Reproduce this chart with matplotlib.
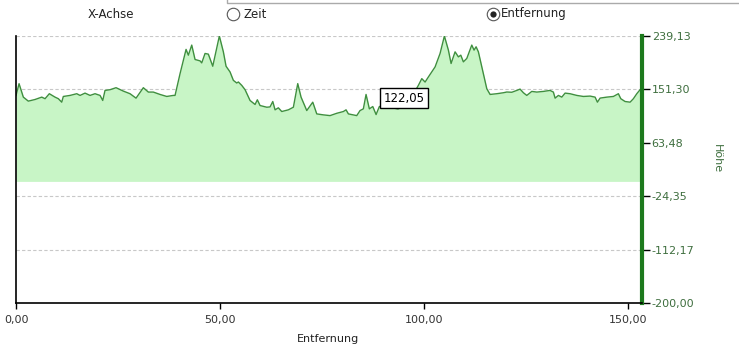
import matplotlib.pyplot as plt
from matplotlib.lines import Line2D

# Entfernung (km) und Höhe (m)
entfernung = [0.0, 0.74, 1.79, 3.01, 4.66, 6.30, 7.11, 8.16, 9.56, 10.37, 11.2, 11.59,
              13.24, 14.88, 15.69, 16.91, 18.14, 19.36, 20.59, 21.25, 21.81, 23.04,
              24.51, 26.3, 27.94, 29.41, 31.2, 32.43, 33.65, 35.29, 36.94, 38.55,
              38.97, 40.2, 41.67, 42.23, 43.06, 43.87, 45.1, 45.51, 46.32, 47.13,
              48.21, 49.83, 50.81, 51.47, 52.45, 53.26, 54.09, 54.49, 55.32, 56.13,
              57.35, 58.58, 59.14, 59.8, 61.45, 62.25, 62.92, 63.48, 64.29, 65.12,
              66.74, 67.97, 69.04, 69.85, 71.25, 72.72, 73.7, 75.32, 76.96, 78.6,
              80.22, 80.88, 81.45, 83.5, 84.31, 85.12, 85.78, 86.59, 87.43, 88.24,
              89.04, 90.4, 91.7, 93.6, 95.3, 96.6, 97.5, 98.6, 99.44, 100.25, 101.05,
              102.7, 103.92, 104.98, 105.96, 106.62, 107.6, 108.41, 109.0, 109.63,
              110.47, 111.69, 112.25, 112.75, 113.31, 115.37, 116.18, 117.82, 119.44,
              120.27, 121.5, 122.72, 123.53, 124.34, 125.17, 126.4, 127.62, 129.24,
              130.88, 131.69, 132.11, 132.92, 133.75, 134.56, 135.78, 137.43, 139.04,
              140.69, 141.91, 142.48, 143.14, 144.78, 146.4, 147.62, 148.21, 149.26,
              150.49, 151.3, 152.13, 152.94, 153.36]
hoehe = [141.4, 160.7, 138.6, 132.0, 134.7, 138.6, 136.0, 144.2, 138.6, 136.0, 130.3, 139.7,
         141.4, 144.2, 141.4, 145.2, 141.4, 144.2, 141.4, 133.1, 149.6, 150.8,
         154.1, 148.5, 144.2, 136.9, 154.1, 146.9, 146.9, 143.0, 139.7, 141.4,
         141.4, 177.3, 217.1, 207.6, 224.2, 200.5, 198.2, 194.9, 210.4, 209.3,
         189.4, 239.1, 213.1, 189.4, 180.0, 166.2, 161.8, 163.5, 157.9, 150.8,
         133.1, 126.5, 134.2, 124.8, 122.0, 122.5, 131.4, 117.7, 121.0, 114.9,
         117.7, 122.0, 160.8, 138.6, 116.5, 130.3, 111.0, 109.4, 108.2, 112.0,
         114.9, 117.7, 111.0, 108.2, 116.5, 119.3, 143.0, 119.3, 123.1, 109.9,
         123.1, 125.0, 122.0, 119.0, 124.0, 132.0, 145.0, 157.9, 169.0, 163.4, 171.7,
         188.3, 210.4, 239.1, 215.9, 193.9, 213.1, 204.8, 207.6, 196.6,
         202.2, 224.2, 215.9, 221.4, 213.1, 152.4, 143.0, 144.2, 145.8,
         147.0, 146.6, 149.6, 151.8, 145.8, 141.4, 148.0, 146.9, 148.0,
         149.6, 146.9, 136.9, 141.4, 138.6, 145.2, 144.2, 141.4, 139.7,
         140.3, 138.6, 130.3, 137.0, 138.6, 139.7, 144.2, 136.0, 131.4,
         130.3, 136.0, 144.2, 150.8, 148.0]

y_ticks = [239.13, 151.30, 63.48, -24.35, -112.17, -200.00]
x_ticks = [0, 50, 100, 150]

plt.rcParams['font.family'] = ['DejaVu Sans']

fig = plt.figure(figsize=(7.39, 3.54), dpi=100)
ax = fig.add_axes([0.0217, 0.1441, 0.8470, 0.7542])

ax.fill_between(entfernung, hoehe, 0, color='#c8f5c6', linewidth=0)
ax.plot(entfernung, hoehe, color='#3f8f3f', linewidth=1.0)

ax.set_xlim(0, 153.4)
ax.set_ylim(-200, 239.13)

ax.yaxis.tick_right()
ax.set_yticks(y_ticks)
ax.set_yticklabels([f'{v:.2f}'.replace('.', ',') for v in y_ticks],
                   color='#3e6e3e', fontsize=8)
ax.tick_params(axis='y', length=6, width=1, color='black', pad=1, right=True, left=False)
ax.set_xticks(x_ticks)
ax.set_xticklabels([f'{v:.2f}'.replace('.', ',') for v in x_ticks],
                   color='#333333', fontsize=8)
ax.tick_params(axis='x', length=4, width=1, color='black', pad=5)

for v in y_ticks[:-1]:
    ax.axhline(v, color='#c8c8c8', linewidth=0.8, linestyle=(0, (3, 2)), zorder=0)

ax.spines['top'].set_visible(False)
ax.spines['left'].set_color('black')
ax.spines['left'].set_linewidth(1.2)
ax.spines['bottom'].set_color('black')
ax.spines['bottom'].set_linewidth(1.2)
ax.spines['right'].set_color('#1d7a1d')
ax.spines['right'].set_linewidth(3)

ax.set_xlabel('Entfernung', fontsize=8, color='#222222')
ax.xaxis.set_label_coords(0.499, -0.115)
fig.text(0.970, 0.553, 'Höhe', rotation=270, color='#3e6e3e', fontsize=8,
         ha='center', va='center')

# Tooltip
ax.text(95.1, 136.5, '122,05', fontsize=8.5, ha='center', va='center', color='black',
        bbox=dict(boxstyle='square,pad=0.3', facecolor='white', edgecolor='black', linewidth=1))

# Kopfzeile mit Auswahl
head_y = 1 - 14 / 354
fig.text(0.150, head_y, 'X-Achse', fontsize=8.5, color='#222222', ha='center', va='center')
fig.text(244 / 739, head_y, 'Zeit', fontsize=8.5, color='#222222', ha='left', va='center')
fig.text(501 / 739, head_y, 'Entfernung', fontsize=8.5, color='#222222', ha='left', va='center')
fig.lines.append(Line2D([233 / 739, 493 / 739], [head_y, head_y], transform=fig.transFigure,
                        linestyle='none', marker='o', markersize=9,
                        markerfacecolor='white', markeredgecolor='#555555', markeredgewidth=0.8))
fig.lines.append(Line2D([493 / 739], [head_y], transform=fig.transFigure,
                        linestyle='none', marker='o', markersize=4.5,
                        markerfacecolor='#222222', markeredgecolor='none'))
fig.lines.append(Line2D([227 / 739, 227 / 739, 1.0], [1.0, 1 - 3 / 354, 1 - 3 / 354],
                        transform=fig.transFigure, color='#aaaaaa', linewidth=1))

fig.savefig('out.png', dpi=100)
